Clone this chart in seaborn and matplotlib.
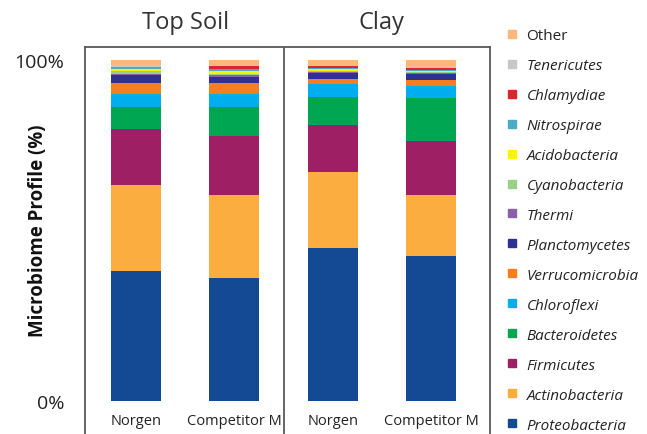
import matplotlib
matplotlib.use("Agg")
import matplotlib.pyplot as plt
import matplotlib.transforms as mtransforms
from matplotlib.lines import Line2D
import pandas as pd
import seaborn as sns

# taxa listed bottom -> top of each stacked bar
TAXA = [
    "Proteobacteria", "Actinobacteria", "Firmicutes", "Bacteroidetes",
    "Chloroflexi", "Verrucomicrobia", "Planctomycetes", "Thermi",
    "Cyanobacteria", "Acidobacteria", "Nitrospirae", "Chlamydiae",
    "Tenericutes", "Other",
]
COLORS = [
    "#134a93", "#fbad40", "#9e1f63", "#00a651",
    "#00aeef", "#f47f20", "#2e3192", "#8c5fa8",
    "#9bd187", "#fff200", "#4bacc6", "#e0242b",
    "#c8c8c8", "#fbb77c",
]

GROUPS = ["Top Soil", "Clay"]
KITS = ["Norgen", "Competitor M"]

# percent of reads per taxon (same order as TAXA)
topsoil_norgen = [38.0, 25.3, 16.5, 6.5, 3.7, 3.3, 2.3, 0.4, 0.7, 0.6, 0.6, 0.1, 0.4, 1.6]
topsoil_comp = [36.1, 24.3, 17.4, 8.5, 3.7, 3.3, 1.6, 0.6, 0.4, 1.0, 0.4, 0.9, 0.2, 1.6]
clay_norgen = [44.8, 22.3, 13.8, 8.3, 3.8, 1.5, 1.8, 0.3, 0.3, 0.4, 0.3, 0.5, 0.3, 1.6]
clay_comp = [42.6, 17.8, 15.9, 12.6, 3.6, 1.6, 1.8, 0.4, 0.3, 0.3, 0.2, 0.5, 0.2, 2.2]

PROFILES = [topsoil_norgen, topsoil_comp, clay_norgen, clay_comp]


def build_frame():
    rows = []
    for i, values in enumerate(PROFILES):
        sample = f"{GROUPS[i // 2]} {KITS[i % 2]}"
        total = 0.0
        for taxon, v in zip(TAXA, values):
            total += v
            rows.append({"sample": sample, "taxon": taxon, "cum": total})
    return pd.DataFrame(rows)


def main():
    df = build_frame()
    order = list(df["sample"].unique())

    sns.set_theme(style="white")
    plt.rcParams["font.family"] = ["Open Sans", "DejaVu Sans"]

    W, H = 647, 435
    fig = plt.figure(figsize=(W / 100, H / 100), dpi=100)
    ax = fig.add_axes([85 / W, 0, 405 / W, (H - 48) / H])

    # draw cumulative bars from the top taxon down so lower ones sit in front
    for taxon, color in reversed(list(zip(TAXA, COLORS))):
        sub = df[df["taxon"] == taxon]
        sns.barplot(data=sub, x="sample", y="cum", order=order, color=color,
                    saturation=1, width=0.51, errorbar=None, linewidth=0, ax=ax)

    ax.set_xlim(-0.52, 3.6)
    ax.set_ylim(-9.68, 103.81)
    ax.set_xlabel("")
    ax.set_ylabel("Microbiome Profile (%)", fontsize=13.5, fontweight="bold",
                  color="#111111")
    ax.yaxis.set_label_coords(-37 / 405, (H - 231) / 387)
    ax.set_xticks([])
    ax.set_yticks([0, 100])
    ax.set_yticklabels(["0%", "100%"], fontsize=14, color="#222222")
    ax.tick_params(axis="y", length=0, pad=15)

    for side in ("left", "top", "right"):
        ax.spines[side].set_color("#595959")
        ax.spines[side].set_linewidth(1.3)
    ax.spines["bottom"].set_visible(False)
    ax.axvline(1.5, color="#595959", linewidth=1.3)

    trans = mtransforms.blended_transform_factory(ax.transData, ax.transAxes)
    for i, sample in enumerate(order):
        ax.text(i, 13 / 387, KITS[i % 2], transform=trans, ha="center",
                va="center", fontsize=10.5, color="#222222")
    for g, group in enumerate(GROUPS):
        ax.text(2 * g + 0.5, 1 + 25 / 387, group, transform=trans, ha="center",
                va="center", fontsize=17, color="#333333")

    handles = [Line2D([0], [0], marker="s", color=c, linestyle="None", markersize=6)
               for c in COLORS][::-1]
    leg = fig.legend(handles, TAXA[::-1], loc="upper left",
                     bbox_to_anchor=(505 / W, 1 - 29 / H), frameon=False,
                     fontsize=11, labelspacing=0.98, handletextpad=0.5,
                     handlelength=0.9, borderpad=0, borderaxespad=0)
    for text in leg.get_texts():
        if text.get_text() != "Other":
            text.set_style("italic")
        text.set_color("#222222")

    fig.savefig("out.png", dpi=100)
    plt.close(fig)


if __name__ == "__main__":
    main()
